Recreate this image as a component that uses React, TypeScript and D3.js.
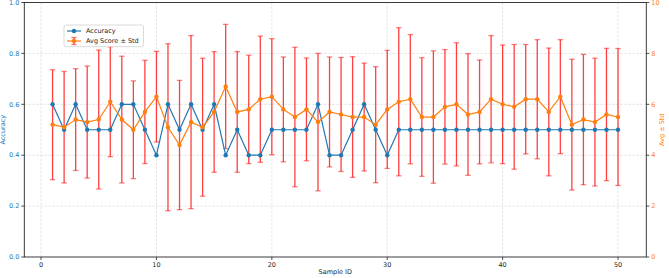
import React from 'react';
import * as d3 from 'd3';

const sampleIds = [
  1, 2, 3, 4, 5, 6, 7, 8, 9, 10, 11, 12, 13, 14, 15, 16, 17, 18, 19, 20, 21, 22, 23, 24, 25,
  26, 27, 28, 29, 30, 31, 32, 33, 34, 35, 36, 37, 38, 39, 40, 41, 42, 43, 44, 45, 46, 47, 48, 49, 50,
];

const accuracy = [
  0.6, 0.5, 0.6, 0.5, 0.5, 0.5, 0.6, 0.6, 0.5, 0.4,
  0.6, 0.5, 0.6, 0.5, 0.6, 0.4, 0.5, 0.4, 0.4, 0.5,
  0.5, 0.5, 0.5, 0.6, 0.4, 0.4, 0.5, 0.6, 0.5, 0.4,
  0.5, 0.5, 0.5, 0.5, 0.5, 0.5, 0.5, 0.5, 0.5, 0.5,
  0.5, 0.5, 0.5, 0.5, 0.5, 0.5, 0.5, 0.5, 0.5, 0.5,
];

const avgScore = [
  5.2, 5.1, 5.4, 5.3, 5.4, 6.1, 5.4, 5.0, 5.7, 6.3,
  5.1, 4.4, 5.3, 5.1, 5.7, 6.7, 5.7, 5.8, 6.2, 6.3,
  5.8, 5.5, 5.8, 5.3, 5.7, 5.6, 5.5, 5.5, 5.2, 5.8,
  6.1, 6.2, 5.5, 5.5, 5.9, 6.0, 5.6, 5.7, 6.2, 6.0,
  5.9, 6.2, 6.2, 5.7, 6.3, 5.2, 5.4, 5.3, 5.6, 5.5,
];

const stdScore = [
  2.16, 2.19, 2.0, 2.2, 2.73, 2.16, 2.49, 1.92, 2.03, 1.78,
  3.28, 2.54, 3.4, 2.71, 2.37, 2.44, 2.37, 2.13, 2.48, 2.28,
  2.06, 2.74, 2.02, 2.7, 2.16, 2.24, 2.37, 2.12, 2.28, 2.32,
  2.91, 2.54, 2.33, 2.6, 2.25, 2.42, 2.39, 2.04, 2.5, 2.33,
  2.45, 2.15, 2.34, 2.51, 2.24, 2.57, 2.56, 2.51, 2.6, 2.69,
];

const xTicks = [0, 10, 20, 30, 40, 50];
const accTicks = [0.0, 0.2, 0.4, 0.6, 0.8, 1.0];
const scoreTicks = [0, 2, 4, 6, 8, 10];

const W = 669;
const H = 278;
const BLUE = '#1f77b4';
const ORANGE = '#ff7f0e';
const FONT = 'DejaVu Sans, sans-serif';

export default function App() {
  const left = 24.3;
  const right = 646.3;
  const top = 2.5;
  const bottom = 257;

  const x = d3.scaleLinear().domain([-1.45, 52.45]).range([left, right]);
  const yAcc = d3.scaleLinear().domain([0, 1]).range([bottom, top]);
  const yScore = d3.scaleLinear().domain([0, 10]).range([bottom, top]);

  const rows = sampleIds.map((id, i) => ({
    id,
    acc: accuracy[i],
    avg: avgScore[i],
    std: stdScore[i],
  }));

  const accLine = d3.line<(typeof rows)[0]>()
    .x(d => x(d.id))
    .y(d => yAcc(d.acc));
  const avgLine = d3.line<(typeof rows)[0]>()
    .x(d => x(d.id))
    .y(d => yScore(d.avg));

  const cap = 2.7;

  return (
    <svg width={W} height={H} style={{ position: 'absolute', left: 0, top: 0 }} fontFamily={FONT}>
      <rect width={W} height={H} fill="white" />

      {/* grid */}
      <g stroke="#d9d9d9" strokeWidth={0.7} strokeDasharray="2.5,1.5">
        {xTicks.map(t => (
          <line key={'gx' + t} x1={x(t)} x2={x(t)} y1={top} y2={bottom} />
        ))}
        {accTicks.slice(1, -1).map(t => (
          <line key={'gy' + t} x1={left} x2={right} y1={yAcc(t)} y2={yAcc(t)} />
        ))}
      </g>

      {/* error bars */}
      <g stroke="#ff0000">
        {rows.map(d => {
          const cx = x(d.id);
          const y1 = yScore(d.avg + d.std);
          const y2 = yScore(d.avg - d.std);
          return (
            <g key={'e' + d.id}>
              <line x1={cx} x2={cx} y1={y1} y2={y2} strokeWidth={1.3} strokeOpacity={0.75} />
              <line x1={cx - cap} x2={cx + cap} y1={y1} y2={y1} strokeWidth={1.3} strokeOpacity={0.5} />
              <line x1={cx - cap} x2={cx + cap} y1={y2} y2={y2} strokeWidth={1.3} strokeOpacity={0.5} />
            </g>
          );
        })}
      </g>

      {/* accuracy */}
      <path d={accLine(rows) || ''} fill="none" stroke={BLUE} strokeWidth={1.2} />
      {rows.map(d => (
        <circle key={'a' + d.id} cx={x(d.id)} cy={yAcc(d.acc)} r={2.2} fill={BLUE} />
      ))}

      {/* avg score */}
      <path d={avgLine(rows) || ''} fill="none" stroke={ORANGE} strokeWidth={1.2} />
      {rows.map(d => (
        <circle key={'s' + d.id} cx={x(d.id)} cy={yScore(d.avg)} r={2.2} fill={ORANGE} />
      ))}

      {/* frame */}
      <rect x={left} y={top} width={right - left} height={bottom - top} fill="none" stroke="#262626" strokeWidth={0.9} />

      {/* x axis */}
      {xTicks.map(t => (
        <g key={'xt' + t} transform={`translate(${x(t)},${bottom})`}>
          <line y2={3} stroke="#262626" strokeWidth={0.8} />
          <text y={10} fontSize={6.5} textAnchor="middle" fill="#262626">{t}</text>
        </g>
      ))}
      <text x={(left + right) / 2} y={274} fontSize={6.5} textAnchor="middle" fill="#262626">Sample ID</text>

      {/* left axis */}
      {accTicks.map(t => (
        <g key={'yl' + t} transform={`translate(${left},${yAcc(t)})`}>
          <line x2={-3} stroke="#262626" strokeWidth={0.8} />
          <text x={-5} dy="0.35em" fontSize={6.5} textAnchor="end" fill={BLUE}>{t.toFixed(1)}</text>
        </g>
      ))}
      <text transform={`translate(5,${(top + bottom) / 2}) rotate(-90)`} fontSize={6.5} textAnchor="middle" fill={BLUE}>Accuracy</text>

      {/* right axis */}
      {scoreTicks.map(t => (
        <g key={'yr' + t} transform={`translate(${right},${yScore(t)})`}>
          <line x2={3} stroke="#262626" strokeWidth={0.8} />
          <text x={5} dy="0.35em" fontSize={6.5} textAnchor="start" fill={ORANGE}>{t}</text>
        </g>
      ))}
      <text transform={`translate(664,${(top + bottom) / 2}) rotate(-90)`} fontSize={6.5} textAnchor="middle" fill={ORANGE}>Avg ± Std</text>

      {/* legend */}
      <g transform="translate(64,25)">
        <rect width={79.5} height={21.7} rx={2} fill="white" fillOpacity={0.85} stroke="#d0d0d0" strokeWidth={0.8} />
        <line x1={3} x2={17} y1={6} y2={6} stroke={BLUE} strokeWidth={1.2} />
        <circle cx={10} cy={6} r={2.2} fill={BLUE} />
        <text x={22} y={6} dy="0.35em" fontSize={6.5} fill="#262626">Accuracy</text>
        <line x1={10} x2={10} y1={12.5} y2={19.5} stroke="#ff0000" strokeWidth={1.3} strokeOpacity={0.75} />
        <line x1={10 - cap} x2={10 + cap} y1={12.5} y2={12.5} stroke="#ff0000" strokeWidth={1.3} strokeOpacity={0.5} />
        <line x1={10 - cap} x2={10 + cap} y1={19.5} y2={19.5} stroke="#ff0000" strokeWidth={1.3} strokeOpacity={0.5} />
        <line x1={3} x2={17} y1={16} y2={16} stroke={ORANGE} strokeWidth={1.2} />
        <circle cx={10} cy={16} r={2.2} fill={ORANGE} />
        <text x={22} y={16} dy="0.35em" fontSize={6.5} fill="#262626">Avg Score ± Std</text>
      </g>
    </svg>
  );
}
